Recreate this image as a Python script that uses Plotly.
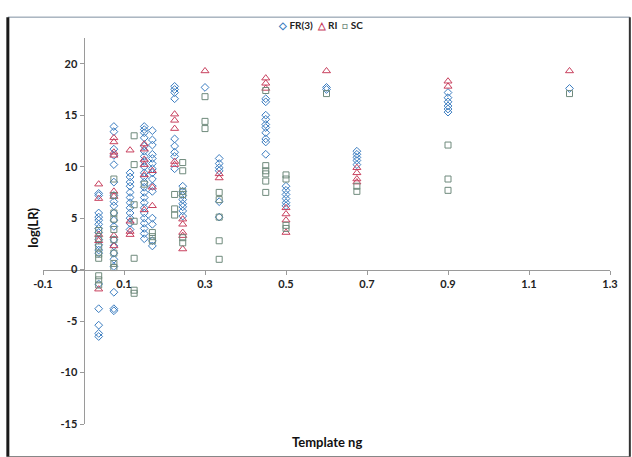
import plotly.graph_objects as go

# log(LR) values grouped by template amount (ng) for each method
FR3_LOGLR = {
    0.0375: [7.4, 7.2, 5.5, 5.1, 4.8, 4.4, 4.0, 3.6, 2.9, 2.4, 1.9, 1.6, -1.4, -3.8, -5.4, -6.2, -6.5],
    0.075: [13.9, 13.4, 11.7, 11.1, 10.2, 8.5, 7.2, 6.6, 6.2, 5.5, 4.8, 4.2, 2.9, 2.3, 1.6, 1.0, 0.3, -2.2, -3.8, -4.0],
    0.115: [9.4, 9.0, 8.5, 8.1, 7.5, 7.0, 6.5, 6.0, 5.5, 5.0, 4.5, 3.9],
    0.15: [13.9, 13.6, 13.3, 12.8, 12.0, 11.5, 11.0, 10.5, 10.0, 9.4, 9.0, 8.5, 8.0, 7.5, 7.0, 6.5,
           6.0, 5.5, 5.0, 4.5, 4.0, 3.5, 3.0],
    0.17: [13.5, 12.6, 12.1, 11.2, 10.8, 10.3, 9.8, 9.4, 8.8, 8.1, 7.6, 5.0, 4.4, 2.8, 2.3],
    0.225: [17.8, 17.5, 17.2, 16.6, 12.7, 12.0, 11.4, 11.0, 9.8],
    0.245: [8.1, 7.6, 7.2, 6.8, 6.4, 6.1, 5.7, 5.2],
    0.3: [17.7],
    0.335: [10.8, 10.3, 9.9, 9.6, 6.6, 5.1],
    0.45: [16.6, 16.3, 15.0, 14.6, 14.1, 13.8, 13.3, 12.7, 12.4, 11.2],
    0.5: [8.1, 7.7, 7.3, 6.9, 6.5, 6.2],
    0.6: [17.7, 17.5],
    0.675: [11.5, 11.2, 10.9, 10.6, 10.2],
    0.9: [17.2, 16.7, 16.3, 15.9, 15.6, 15.3],
    1.2: [17.6],
}

RI_LOGLR = {
    0.0375: [8.3, 6.9, 3.4, 2.8, -1.9],
    0.075: [12.8, 12.4, 11.4, 11.1, 7.6, 7.1, 3.3, 2.3],
    0.115: [11.6, 4.7, 3.7, 3.4],
    0.15: [12.2, 11.7, 10.7, 10.2, 9.2, 5.8],
    0.17: [9.6, 8.0, 6.2],
    0.225: [15.1, 14.5, 13.7, 10.5, 10.2],
    0.245: [4.9, 4.4, 3.6, 3.3, 2.0],
    0.3: [19.3],
    0.335: [9.3, 8.9],
    0.45: [18.6, 18.1, 17.6],
    0.5: [6.0, 5.4, 4.8, 3.6],
    0.6: [19.3],
    0.675: [9.9, 9.4, 8.8, 8.5],
    0.9: [18.3, 17.8],
    1.2: [19.3],
}

SC_LOGLR = {
    0.0375: [3.8, 3.0, 2.2, 1.5, 1.1, -0.6, -1.0, -1.5],
    0.075: [8.8, 7.2, 5.5, 4.9, 3.9, 2.9, 1.6, 0.6, 0.2],
    0.125: [13.0, 10.2, 6.3, 4.7, 1.1, -2.0, -2.3],
    0.15: [8.3],
    0.17: [3.6, 3.2, 2.8],
    0.225: [7.3, 5.9, 5.3],
    0.245: [10.4, 9.6, 7.6, 7.3, 3.1, 2.6],
    0.3: [16.8, 14.4, 13.7],
    0.335: [7.5, 6.8, 5.1, 2.8, 1.0],
    0.45: [17.4, 10.1, 9.6, 9.3, 8.6, 7.5],
    0.5: [9.2, 8.8, 4.3, 4.0],
    0.6: [17.1],
    0.675: [8.1, 7.6],
    0.9: [12.1, 8.8, 7.7],
    1.2: [17.1],
}

X_TICKS = [-0.1, 0.1, 0.3, 0.5, 0.7, 0.9, 1.1, 1.3]
X_TICK_TEXT = ["-0.1", "0.1", "0.3", "0.5", "0.7", "0.9", "1.1", "1.3"]
Y_TICKS = [-15, -10, -5, 0, 5, 10, 15, 20]
Y_TICK_TEXT = ["-15", "-10", "-5", "0", "5", "10", "15", "20"]

X_RANGE = [-0.1, 1.3]
Y_RANGE = [-15, 22.5]

FONT = "Lato, 'Open Sans', sans-serif"


def flatten(groups):
    xs, ys = [], []
    for template, values in groups.items():
        for v in values:
            xs.append(template)
            ys.append(v)
    return xs, ys


# name, data, marker symbol, legend glyph, colour, marker size
series = [
    ("FR(3)", FR3_LOGLR, "diamond-open", "◇", "#3A7CC0", 6),
    ("RI", RI_LOGLR, "triangle-up-open", "△", "#C8405E", 7),
    ("SC", SC_LOGLR, "square-open", "□", "#6F8A7C", 6),
]

fig = go.Figure()
legend_parts = []
for name, groups, symbol, glyph, color, size in series:
    xs, ys = flatten(groups)
    fig.add_trace(go.Scatter(
        x=xs, y=ys, mode="markers", name=name, showlegend=False,
        marker=dict(symbol=symbol, size=size, color=color, line=dict(width=1, color=color)),
    ))
    legend_parts.append(f"<span style='color:{color}'>{glyph}</span> {name}")

# axes cross at the origin, as in a spreadsheet chart
x_zero_frac = (0 - X_RANGE[0]) / (X_RANGE[1] - X_RANGE[0])
y_zero_frac = (0 - Y_RANGE[0]) / (Y_RANGE[1] - Y_RANGE[0])

axis_font = dict(family=FONT, size=11, color="#222222", weight="bold")

fig.update_layout(
    width=632, height=457,
    margin=dict(l=43, r=22, t=38, b=33),
    paper_bgcolor="white", plot_bgcolor="white",
    xaxis=dict(range=X_RANGE, domain=[0, 1], anchor="free", position=y_zero_frac,
               tickvals=X_TICKS, ticktext=X_TICK_TEXT, tickfont=axis_font,
               showgrid=False, zeroline=False, showline=True, linecolor="#9a9a9a", linewidth=1,
               ticks="outside", ticklen=4, tickcolor="#9a9a9a"),
    yaxis=dict(range=Y_RANGE, domain=[0, 1], anchor="free", position=x_zero_frac,
               tickvals=Y_TICKS, ticktext=Y_TICK_TEXT, tickfont=axis_font,
               showgrid=False, zeroline=False, showline=True, linecolor="#9a9a9a", linewidth=1,
               ticks="outside", ticklen=4, tickcolor="#9a9a9a"),
    annotations=[
        dict(text="&nbsp;&nbsp;".join(legend_parts), xref="paper", yref="paper", x=0.49, y=1.034,
             showarrow=False, xanchor="center", yanchor="middle",
             font=dict(family=FONT, size=10, color="#222222", weight="bold")),
        dict(text="Template ng", xref="paper", yref="paper", x=0.5, y=-0.047,
             showarrow=False, xanchor="center", yanchor="middle",
             font=dict(family=FONT, size=13, color="#111111", weight="bold")),
        dict(text="log(LR)", xref="paper", yref="paper", x=-0.018, y=0.508,
             showarrow=False, textangle=-90, xanchor="center", yanchor="middle",
             font=dict(family=FONT, size=13, color="#111111", weight="bold")),
    ],
    shapes=[
        # chart frame
        dict(type="line", xref="paper", yref="paper", x0=-0.062, x1=1.035, y0=1.054, y1=1.054,
             line=dict(color="#7f8fa0", width=1)),
        dict(type="line", xref="paper", yref="paper", x0=-0.062, x1=-0.062, y0=-0.085, y1=1.054,
             line=dict(color="#1a1a1a", width=3)),
        dict(type="line", xref="paper", yref="paper", x0=1.035, x1=1.035, y0=-0.085, y1=1.054,
             line=dict(color="#333333", width=2)),
        dict(type="line", xref="paper", yref="paper", x0=-0.062, x1=1.035, y0=-0.085, y1=-0.085,
             line=dict(color="#555555", width=1)),
    ],
)

fig.write_html("out.html")
